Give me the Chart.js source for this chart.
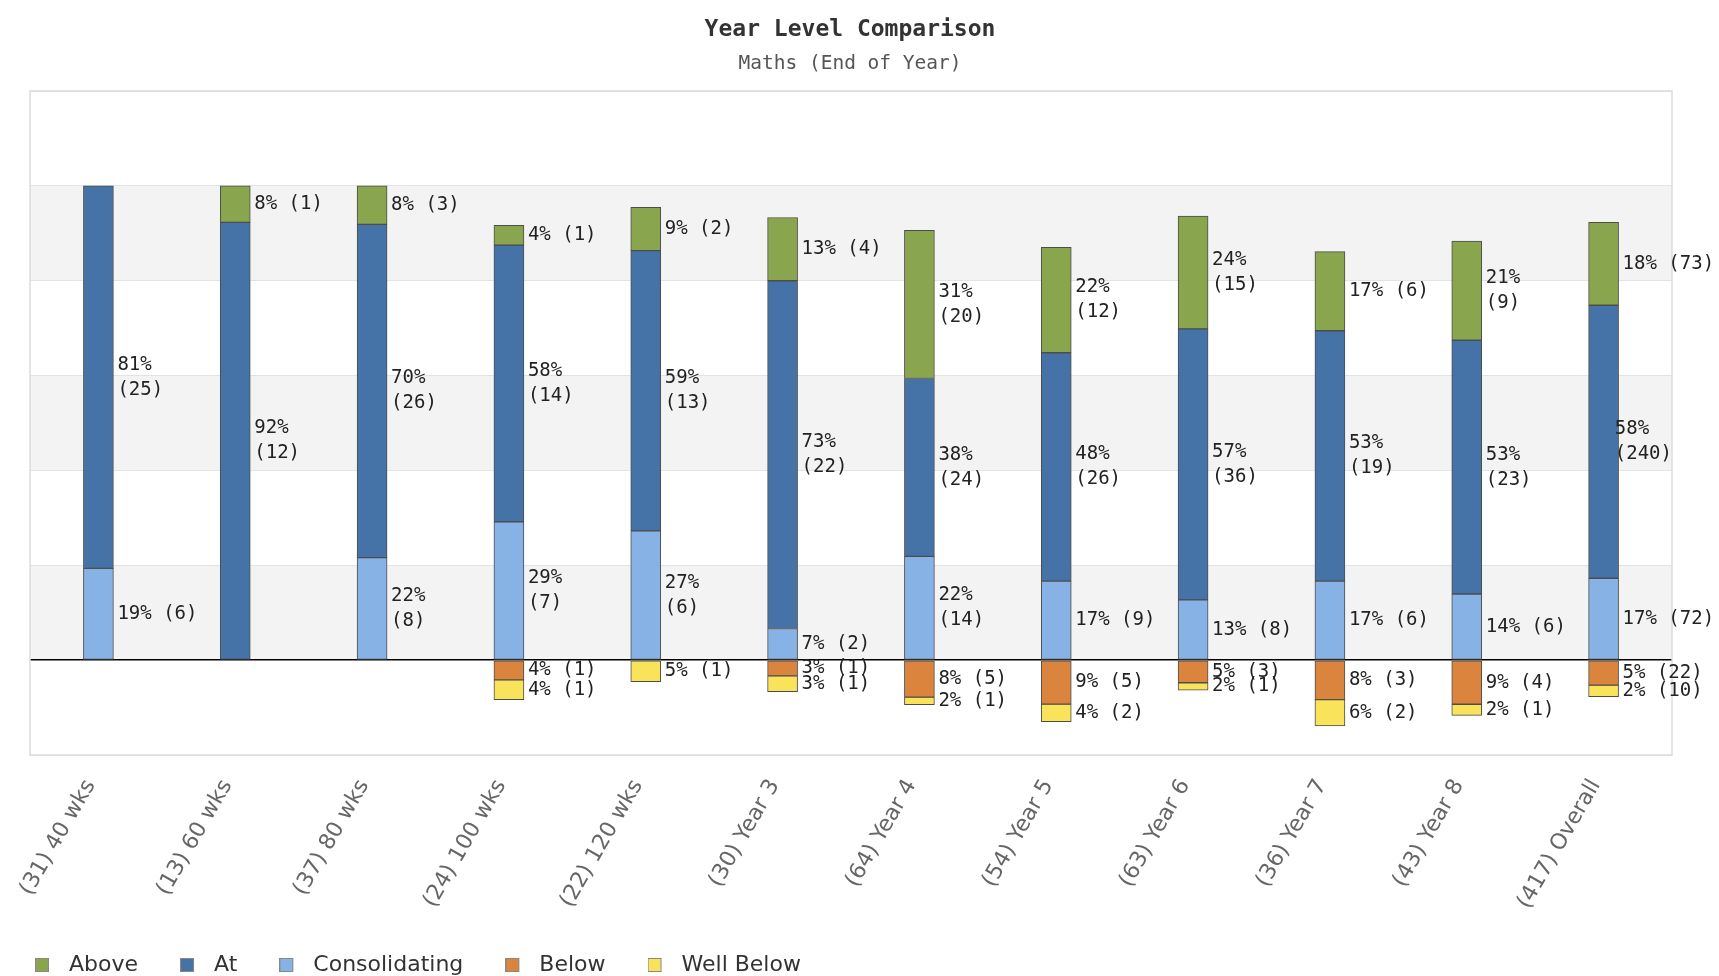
<!DOCTYPE html>
<html>
<head>
<meta charset="utf-8">
<title>Year Level Comparison</title>
<script src="https://cdn.jsdelivr.net/npm/chart.js@4.4.1/dist/chart.umd.min.js"></script>
<style>
  html, body { margin: 0; padding: 0; background: #fff; overflow: hidden; }
  .chart-box { position: relative; width: 1719px; height: 986px; }
</style>
</head>
<body>
<div class="chart-box"><canvas id="yearChart"></canvas></div>
<script>
// Data (percent of cohort, counts in brackets)

const categories = [
  "(31) 40 wks", "(13) 60 wks", "(37) 80 wks", "(24) 100 wks", "(22) 120 wks", "(30) Year 3",
  "(64) Year 4", "(54) Year 5", "(63) Year 6", "(36) Year 7", "(43) Year 8", "(417) Overall",
];

const abovePct = [0, 7.69, 8.11, 4.17, 9.09, 13.33, 31.25, 22.22, 23.81, 16.67, 20.93, 17.51];
const aboveCount = [0, 1, 3, 1, 2, 4, 20, 12, 15, 6, 9, 73];

const atPct = [80.65, 92.31, 70.27, 58.33, 59.09, 73.33, 37.5, 48.15, 57.14, 52.78, 53.49, 57.55];
const atCount = [25, 12, 26, 14, 13, 22, 24, 26, 36, 19, 23, 240];

const consPct = [19.35, 0, 21.62, 29.17, 27.27, 6.67, 21.88, 16.67, 12.7, 16.67, 13.95, 17.27];
const consCount = [6, 0, 8, 7, 6, 2, 14, 9, 8, 6, 6, 72];

const belowPct = [0, 0, 0, -4.17, 0, -3.33, -7.81, -9.26, -4.76, -8.33, -9.3, -5.28];
const belowCount = [0, 0, 0, 1, 0, 1, 5, 5, 3, 3, 4, 22];

const wellBelowPct = [0, 0, 0, -4.17, -4.55, -3.33, -1.56, -3.7, -1.59, -5.56, -2.33, -2.4];
const wellBelowCount = [0, 0, 0, 1, 1, 1, 1, 2, 1, 2, 1, 10];

const legendOrder = ["Above", "At", "Consolidating", "Below", "Well Below"];
const shadedBands = [[0, 20], [40, 60], [80, 100]];

// Background bands + frame

const bandPlugin = {
  id: "bands",
  beforeDraw(chart) {
    const { ctx, chartArea, scales } = chart;
    ctx.save();
    ctx.fillStyle = "#fff";
    ctx.fillRect(0, 0, chart.width, chart.height);
    ctx.fillStyle = "#f3f3f3";
    shadedBands.forEach(([from, to]) => {
      const top = scales.y.getPixelForValue(to);
      const bottom = scales.y.getPixelForValue(from);
      ctx.fillRect(chartArea.left, top, chartArea.right - chartArea.left, bottom - top);
    });
    ctx.restore();
  },
  beforeDatasetsDraw(chart) {
    const { ctx, chartArea } = chart;
    ctx.save();
    ctx.strokeStyle = "#dcdcdc";
    ctx.lineWidth = 1.5;
    ctx.strokeRect(chartArea.left, chartArea.top, chartArea.right - chartArea.left, chartArea.bottom - chartArea.top);
    ctx.restore();
  },
};

// Segment labels "xx% (n)"

const labelPlugin = {
  id: "segmentLabels",
  afterDatasetsDraw(chart) {
    const { ctx, chartArea } = chart;
    ctx.save();
    ctx.font = "19px 'DejaVu Sans Mono', monospace";
    ctx.fillStyle = "#222";
    ctx.textBaseline = "middle";
    ctx.textAlign = "left";
    chart.data.datasets.forEach((ds, di) => {
      const meta = chart.getDatasetMeta(di);
      meta.data.forEach((bar, i) => {
        const value = ds.data[i];
        if (!value) return;
        const pct = Math.round(Math.abs(value)) + "%";
        const count = "(" + ds.counts[i] + ")";
        const midY = (bar.y + bar.base) / 2;
        let x = bar.x + bar.width / 2 + 4;
        if (Math.abs(value) >= 20) {
          const w = ctx.measureText(count).width;
          x = Math.min(x, chartArea.right - w);
          ctx.fillText(pct, x, midY - 12.5);
          ctx.fillText(count, x, midY + 12.5);
        } else {
          ctx.fillText(pct + " " + count, x, midY);
        }
      });
    });
    ctx.restore();
  },
};

// legend marker: small square with some space after it
function legendSwatch(color) {
  const c = document.createElement("canvas");
  c.width = 23;
  c.height = 14;
  const g = c.getContext("2d");
  g.fillStyle = color;
  g.fillRect(0.5, 0.5, 13, 13);
  g.strokeStyle = "#888";
  g.strokeRect(0.5, 0.5, 13, 13);
  return c;
}

function makeSet(label, data, counts, color) {
  return {
    label,
    data,
    counts,
    swatch: legendSwatch(color),
    backgroundColor: color,
    borderColor: "#4d4d4d",
    borderWidth: 1,
    borderSkipped: false,
    barThickness: 30,
  };
}

const ctx = document.getElementById("yearChart");

const yearChart = new Chart(ctx, {
  type: "bar",
  data: {
    labels: categories,
    datasets: [
      makeSet("Consolidating", consPct, consCount, "#86b2e6"),
      makeSet("At", atPct, atCount, "#4572a7"),
      makeSet("Above", abovePct, aboveCount, "#89a54e"),
      makeSet("Below", belowPct, belowCount, "#db843d"),
      makeSet("Well Below", wellBelowPct, wellBelowCount, "#f8e35b"),
    ],
  },
  options: {
    responsive: true,
    maintainAspectRatio: false,
    animation: false,
    devicePixelRatio: 1,
    layout: { padding: { left: -7, right: 12, top: 0, bottom: 0 } },
    plugins: {
      title: {
        display: true,
        text: "Year Level Comparison",
        color: "#333",
        font: { family: "'DejaVu Sans Mono', monospace", size: 23, weight: "bold" },
        padding: { top: 16, bottom: 0 },
      },
      subtitle: {
        display: true,
        text: "Maths (End of Year)",
        color: "#555",
        font: { family: "'DejaVu Sans Mono', monospace", size: 19.5 },
        padding: { top: 9, bottom: 15 },
      },
      legend: {
        position: "bottom",
        align: "start",
        labels: {
          usePointStyle: true,
          pointStyleWidth: 23,
          boxHeight: 14,
          padding: 42,
          color: "#333",
          font: { family: "'DejaVu Sans', sans-serif", size: 22 },
          generateLabels(chart) {
            const items = Chart.defaults.plugins.legend.labels.generateLabels(chart);
            items.forEach((item) => {
              item.pointStyle = chart.data.datasets[item.datasetIndex].swatch;
            });
            return items;
          },
          sort: (a, b) => legendOrder.indexOf(a.text) - legendOrder.indexOf(b.text),
        },
      },
      tooltip: { enabled: false },
    },
    scales: {
      x: {
        stacked: true,
        grid: { display: false },
        border: { display: false },
        ticks: {
          color: "#666",
          font: { family: "'DejaVu Sans', sans-serif", size: 22 },
          minRotation: 60,
          maxRotation: 60,
          padding: 12,
          labelOffset: -8,
          autoSkip: false,
        },
        afterFit(scale) {
          scale.height = 157;
        },
      },
      y: {
        stacked: true,
        min: -20,
        max: 120,
        ticks: { display: false, stepSize: 20 },
        grid: {
          drawTicks: false,
          color: (c) => (c.tick && c.tick.value === 0 ? "#000" : "#e3e3e3"),
          lineWidth: (c) => (c.tick && c.tick.value === 0 ? 1.5 : 1),
        },
        border: { display: false },
        afterFit(scale) {
          scale.width = 37;
        },
      },
      y2: {
        position: "right",
        grid: { display: false },
        ticks: { display: false },
        border: { display: false },
        afterFit(scale) {
          scale.width = 35;
        },
      },
    },
  },
  plugins: [bandPlugin, labelPlugin],
});
</script>
</body>
</html>
